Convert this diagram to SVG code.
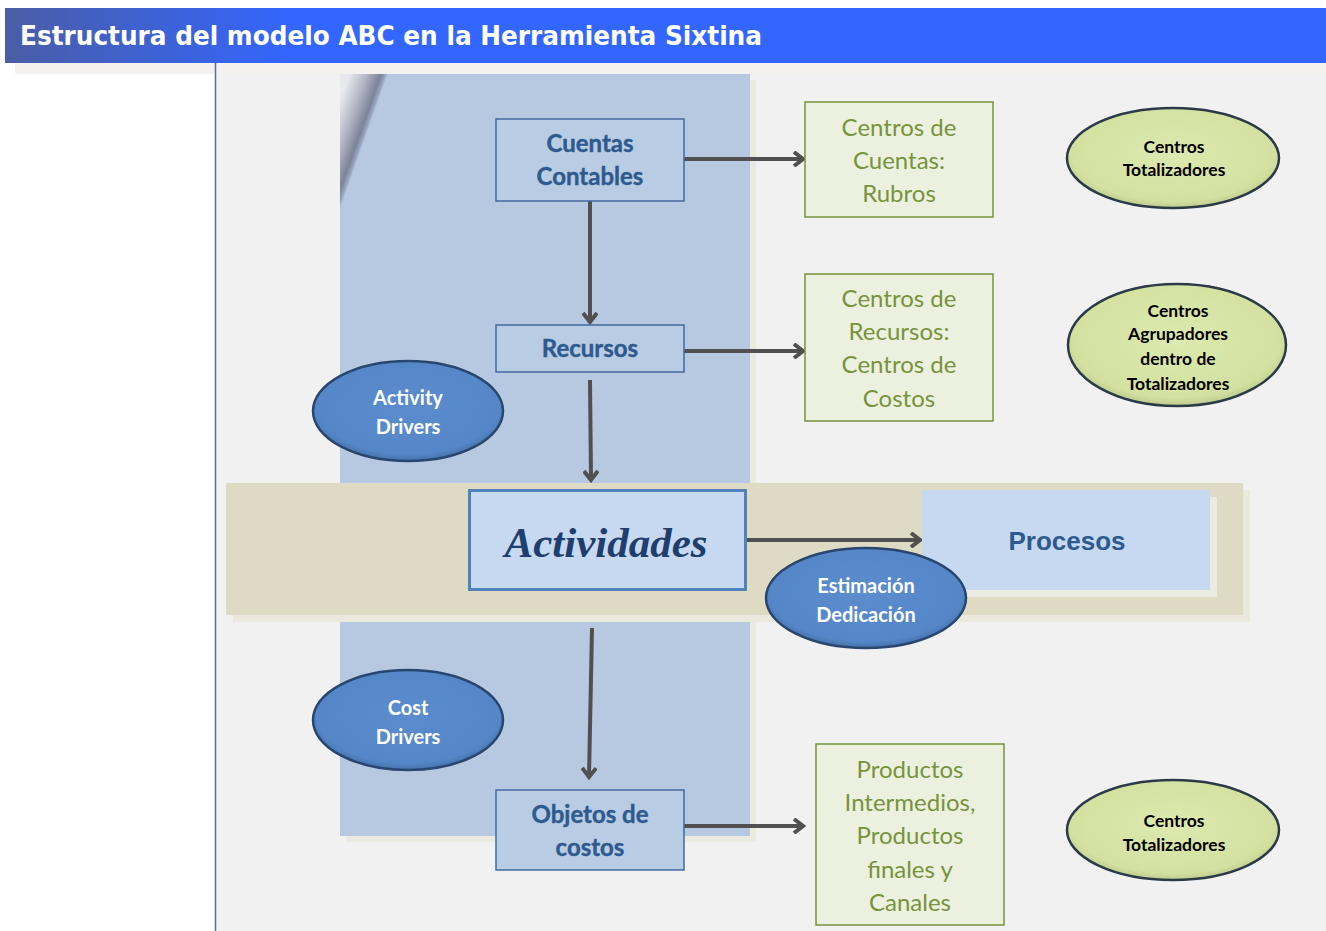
<svg xmlns="http://www.w3.org/2000/svg" width="1326" height="931" viewBox="0 0 1326 931">
  <defs>
    <linearGradient id="hdr" x1="0" y1="0" x2="1" y2="0">
      <stop offset="0" stop-color="#4a5da6"/>
      <stop offset="0.22" stop-color="#3366ff"/>
      <stop offset="1" stop-color="#3366ff"/>
    </linearGradient>
    <linearGradient id="curl" x1="340" y1="100" x2="374.5" y2="112.2" gradientUnits="userSpaceOnUse">
      <stop offset="0" stop-color="#e8e9ee"/>
      <stop offset="0.45" stop-color="#b3b6c4"/>
      <stop offset="0.82" stop-color="#7d8399"/>
      <stop offset="0.94" stop-color="#98a6c2"/>
      <stop offset="1" stop-color="#b7c9e1"/>
    </linearGradient>
    <radialGradient id="blueOval" cx="0.5" cy="0.45" r="0.6">
      <stop offset="0" stop-color="#5a8cce"/>
      <stop offset="0.8" stop-color="#5587c8"/>
      <stop offset="1" stop-color="#3a6398"/>
    </radialGradient>
    <radialGradient id="greenOval" cx="0.5" cy="0.45" r="0.6">
      <stop offset="0" stop-color="#dde9b0"/>
      <stop offset="0.8" stop-color="#d3e1a0"/>
      <stop offset="1" stop-color="#aebd80"/>
    </radialGradient>
    <marker id="arr" markerWidth="14" markerHeight="16" refX="11" refY="8" orient="auto" markerUnits="userSpaceOnUse">
      <path d="M2,1 L11,8 L2,15" fill="none" stroke="#505050" stroke-width="4" stroke-linejoin="miter"/>
    </marker>
  </defs>
  <style>
    .conn line { stroke: #505050; stroke-width: 4; marker-end: url(#arr); }
    .bluebox { fill: #b8cce4; stroke: #41699f; stroke-width: 1.5; }
    .bluetxt { font-family: Lato, "Liberation Sans", sans-serif; font-weight: bold; font-size: 24px; fill: #2e5a8e; text-anchor: middle; stroke: #2e5a8e; stroke-width: 0.4; }
    .greenbox { fill: #ebf1de; stroke: #77933c; stroke-width: 1.5; }
    .greentxt { font-family: Lato, "Liberation Sans", sans-serif; font-size: 24px; fill: #77933c; text-anchor: middle; }
    .boval { fill: url(#blueOval); stroke: #28466e; stroke-width: 2.5; }
    .bovtxt { font-family: Lato, "Liberation Sans", sans-serif; font-weight: bold; font-size: 20px; fill: #ffffff; text-anchor: middle; }
    .goval { fill: url(#greenOval); stroke: #2c3a48; stroke-width: 2.5; }
    .govtxt { font-family: Lato, "Liberation Sans", sans-serif; font-weight: bold; font-size: 17.5px; fill: #000000; text-anchor: middle; }
  </style>

  <!-- page background -->
  <rect x="0" y="0" width="1326" height="931" fill="#ffffff"/>
  <rect x="216" y="63" width="1110" height="868" fill="#f1f1f1"/>
  <rect x="15" y="63" width="1311" height="11" fill="#f3f2ee"/>
  <line x1="215.5" y1="63" x2="215.5" y2="931" stroke="#5a6e9a" stroke-width="1.5"/>

  <!-- title bar -->
  <rect x="5" y="8" width="1321" height="55" fill="url(#hdr)"/>
  <text x="20" y="45" font-family="'DejaVu Sans', 'Liberation Sans', sans-serif" font-weight="bold" font-size="26" fill="#ffffff" textLength="742" lengthAdjust="spacingAndGlyphs">Estructura del modelo ABC en la Herramienta Sixtina</text>

  <!-- vertical blue panel with shadow and curled corner -->
  <rect x="346" y="80" width="410" height="762" fill="#ebeae0"/>
  <rect x="340" y="74" width="410" height="762" fill="#b7c9e1"/>
  <polygon points="340,74 390,74 340,210" fill="url(#curl)"/>

  <!-- horizontal tan band with shadow -->
  <rect x="233" y="490" width="1017" height="132" fill="#ebe9de"/>
  <rect x="226" y="483" width="1017" height="132" fill="#dfdac4"/>

  <!-- connectors -->
  <g id="connectors" class="conn">
    <line x1="684" y1="159" x2="803" y2="159"/>
    <line x1="590" y1="201" x2="590" y2="322"/>
    <line x1="684" y1="351" x2="803" y2="351"/>
    <line x1="590" y1="380" x2="591" y2="480"/>
    <line x1="747" y1="540" x2="920" y2="540"/>
    <line x1="592" y1="628" x2="589" y2="777"/>
    <line x1="684" y1="826" x2="803" y2="826"/>
  </g>

  <g id="cuentas-contables">
    <rect class="bluebox" x="496" y="119" width="188" height="82"/>
    <text class="bluetxt" x="590" y="152">Cuentas</text>
    <text class="bluetxt" x="590" y="185">Contables</text>
  </g>

  <g id="recursos">
    <rect class="bluebox" x="496" y="325" width="188" height="47"/>
    <text class="bluetxt" x="590" y="357">Recursos</text>
  </g>

  <g id="objetos-costos">
    <rect class="bluebox" x="496" y="790" width="188" height="80"/>
    <text class="bluetxt" x="590" y="823">Objetos de</text>
    <text class="bluetxt" x="590" y="856">costos</text>
  </g>

  <g id="actividades">
    <rect x="469.5" y="490.5" width="276" height="99" fill="#c6d9f1" stroke="#4f81bd" stroke-width="3"/>
    <text x="606" y="557" font-family="'Liberation Serif', serif" font-style="italic" font-weight="bold" font-size="43" fill="#1f3e6e" text-anchor="middle">Actividades</text>
  </g>

  <g id="procesos">
    <rect x="929" y="497" width="288" height="100" fill="#ecebe2"/>
    <rect x="922" y="490" width="288" height="100" fill="#c6d9f1"/>
    <text x="1067" y="550" font-family="'Liberation Sans', sans-serif" font-weight="bold" font-size="26" fill="#2e5a8e" text-anchor="middle">Procesos</text>
  </g>

  <g id="activity-drivers">
    <ellipse class="boval" cx="408" cy="411" rx="95" ry="50"/>
    <text class="bovtxt" x="408" y="405">Activity</text>
    <text class="bovtxt" x="408" y="434">Drivers</text>
  </g>

  <g id="cost-drivers">
    <ellipse class="boval" cx="408" cy="720" rx="95" ry="50"/>
    <text class="bovtxt" x="408" y="715">Cost</text>
    <text class="bovtxt" x="408" y="744">Drivers</text>
  </g>

  <g id="estimacion-dedicacion">
    <ellipse class="boval" cx="866" cy="598" rx="100" ry="50"/>
    <text class="bovtxt" x="866" y="593">Estimación</text>
    <text class="bovtxt" x="866" y="622">Dedicación</text>
  </g>

  <g id="centros-cuentas">
    <rect class="greenbox" x="805" y="102" width="188" height="115"/>
    <text class="greentxt" x="899" y="136">Centros de</text>
    <text class="greentxt" x="899" y="169">Cuentas:</text>
    <text class="greentxt" x="899" y="202">Rubros</text>
  </g>

  <g id="centros-recursos">
    <rect class="greenbox" x="805" y="274" width="188" height="147"/>
    <text class="greentxt" x="899" y="307">Centros de</text>
    <text class="greentxt" x="899" y="340">Recursos:</text>
    <text class="greentxt" x="899" y="373">Centros de</text>
    <text class="greentxt" x="899" y="407">Costos</text>
  </g>

  <g id="productos">
    <rect class="greenbox" x="816" y="744" width="188" height="181"/>
    <text class="greentxt" x="910" y="778">Productos</text>
    <text class="greentxt" x="910" y="811">Intermedios,</text>
    <text class="greentxt" x="910" y="844">Productos</text>
    <text class="greentxt" x="910" y="878">finales y</text>
    <text class="greentxt" x="910" y="911">Canales</text>
  </g>

  <g id="centros-totalizadores-1">
    <ellipse class="goval" cx="1173" cy="158" rx="106" ry="50"/>
    <text class="govtxt" x="1174" y="153">Centros</text>
    <text class="govtxt" x="1174" y="176">Totalizadores</text>
  </g>

  <g id="centros-agrupadores">
    <ellipse class="goval" cx="1177" cy="345" rx="109" ry="61"/>
    <text class="govtxt" x="1178" y="317">Centros</text>
    <text class="govtxt" x="1178" y="340">Agrupadores</text>
    <text class="govtxt" x="1178" y="365">dentro de</text>
    <text class="govtxt" x="1178" y="390">Totalizadores</text>
  </g>

  <g id="centros-totalizadores-2">
    <ellipse class="goval" cx="1173" cy="830" rx="106" ry="50"/>
    <text class="govtxt" x="1174" y="827">Centros</text>
    <text class="govtxt" x="1174" y="851">Totalizadores</text>
  </g>
</svg>
